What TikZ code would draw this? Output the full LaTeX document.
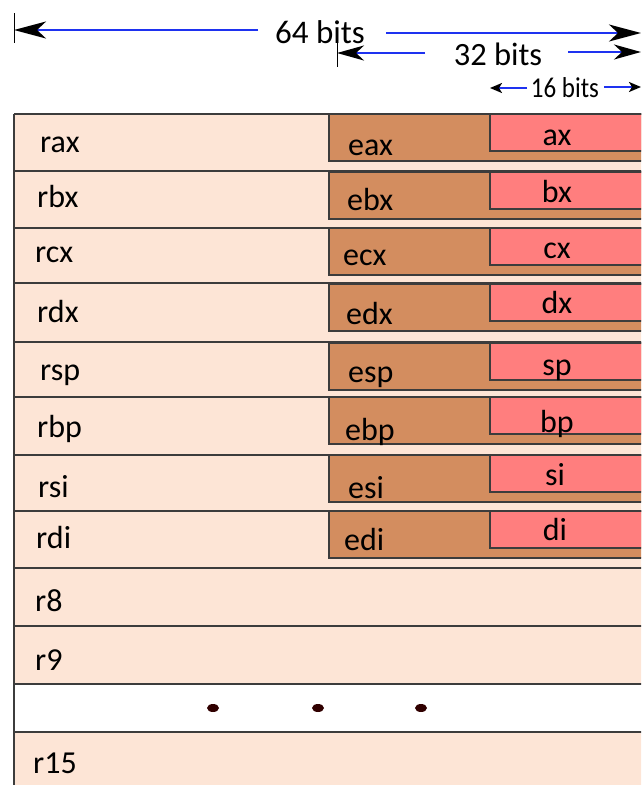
\documentclass[tikz,border=0pt]{standalone}
\usepackage{fontspec}
\setmainfont{Carlito}
\usetikzlibrary{arrows.meta,shapes.geometric}
\definecolor{peach}{RGB}{253,229,214}
\definecolor{tanbox}{RGB}{211,141,95}
\definecolor{pinkbox}{RGB}{255,126,126}
\definecolor{edgec}{RGB}{60,60,60}
\definecolor{dimblue}{RGB}{30,50,240}
\definecolor{dotc}{RGB}{48,0,0}
\begin{document}
\begin{tikzpicture}[x=1pt,y=-1pt,
  reglabel/.style={anchor=base west,inner sep=0pt,font=\fontsize{32}{38}\selectfont},
  sublabel/.style={anchor=base,inner sep=0pt,font=\fontsize{32}{38}\selectfont},
  bitslabel/.style={anchor=base,inner sep=0pt,font=\fontsize{33}{40}\selectfont},
  dimline/.style={draw=dimblue,line width=2pt},
  bigtip/.style={-{Stealth[length=32pt,width=17pt,inset=9pt,color=black]}},
  midtip/.style={-{Stealth[length=27pt,width=15pt,inset=8pt,color=black]}},
  smalltip/.style={-{Stealth[length=12pt,width=10pt,inset=3pt,color=black]}},
  tick/.style={draw=black,line width=1pt},
  rowline/.style={draw=edgec,line width=1.2pt},
  ebox/.style={fill=tanbox,draw=edgec,line width=1.1pt},
  xbox/.style={fill=pinkbox,draw=edgec,line width=1.1pt}]
\useasboundingbox (0,0) rectangle (641,785);
\clip (0,0) rectangle (641,785);
\fill[white] (0,0) rectangle (641,785);

% rows
\foreach \t/\b in {114/171,171/228,228/283,283/342,342/397,397/455,455/511,511/568,568/626,626/684,732/800}
  \fill[peach] (14,\t) rectangle (660,\b);

% 32-bit boxes and 16-bit boxes
\foreach \t in {114,172,228,284,343,397,455,511}{
  \draw[ebox] (329,\t) rectangle (660,\t+47);
  \draw[xbox] (490,\t) rectangle (660,\t+37);
}

% row lines
\foreach \y in {114,171,228,283,342,397,455,511,568,626,684,732}
  \draw[rowline] (14,\y) -- (660,\y);
\draw[rowline] (14,114) -- (14,800);

% register labels
\node[reglabel] (rax) at (40,152) {rax};
\node[reglabel] (rbx) at (37,207) {rbx};
\node[reglabel] (rcx) at (35,262) {rcx};
\node[reglabel] (rdx) at (37,322) {rdx};
\node[reglabel] (rsp) at (40,380) {rsp};
\node[reglabel] (rbp) at (37,437) {rbp};
\node[reglabel] (rsi) at (38,497) {rsi};
\node[reglabel] (rdi) at (36,548) {rdi};
\node[reglabel] (r8) at (35,611) {r8};
\node[reglabel] (r9) at (35,670) {r9};
\node[reglabel] (r15) at (33,773) {r15};

\node[reglabel] (eax) at (348,155) {eax};
\node[reglabel] (ebx) at (347,210) {ebx};
\node[reglabel] (ecx) at (343,265) {ecx};
\node[reglabel] (edx) at (346,324) {edx};
\node[reglabel] (esp) at (348,382) {esp};
\node[reglabel] (ebp) at (345,440) {ebp};
\node[reglabel] (esi) at (348,498) {esi};
\node[reglabel] (edi) at (344,550) {edi};

\node[sublabel] (ax) at (557,145) {ax};
\node[sublabel] (bx) at (557,202) {bx};
\node[sublabel] (cx) at (557,258) {cx};
\node[sublabel] (dx) at (557,313) {dx};
\node[sublabel] (sp) at (557,375) {sp};
\node[sublabel] (bp) at (557,432) {bp};
\node[sublabel] (si) at (555,485) {si};
\node[sublabel] (di) at (555,540) {di};

% dots
\foreach \x/\n in {213/da,318/db,421/dc}
  \node[fill=dotc,ellipse,inner sep=0pt,minimum width=12pt,minimum height=8pt] (\n) at (\x,708) {};

% bit-width annotations
\node[bitslabel] (b64) at (320,43) {64 bits};
\node[bitslabel,font=\fontsize{32.5}{40}\selectfont] (b32) at (498,65) {32 bits};
\node[anchor=base,inner sep=0pt,font=\fontsize{25}{30}\selectfont] (b16) at (565,97) {\scalebox{1}[1.15]{16 bits}};

\coordinate (l64) at (14,30);
\coordinate (r64) at (641,33);
\coordinate (l32) at (337,53);
\coordinate (r32) at (641,52);
\coordinate (l16) at (490,88);
\coordinate (r16) at (641,87);
\coordinate (s64l) at (258,30);
\coordinate (s64r) at (386,33);
\coordinate (s32l) at (425,53);
\coordinate (s32r) at (568,52);
\coordinate (s16l) at (527,88);
\coordinate (s16r) at (604,87);

\draw[tick] (14,13) -- (14,43);
\draw[tick] (337,43) -- (337,67);
\draw[dimline,bigtip] (s64l) -- (l64);
\draw[dimline,bigtip] (s64r) -- (r64);
\draw[dimline,midtip] (s32l) -- (l32);
\draw[dimline,midtip] (s32r) -- (r32);
\draw[dimline,smalltip] (s16l) -- (l16);
\draw[dimline,smalltip] (s16r) -- (r16);
\end{tikzpicture}
\end{document}
